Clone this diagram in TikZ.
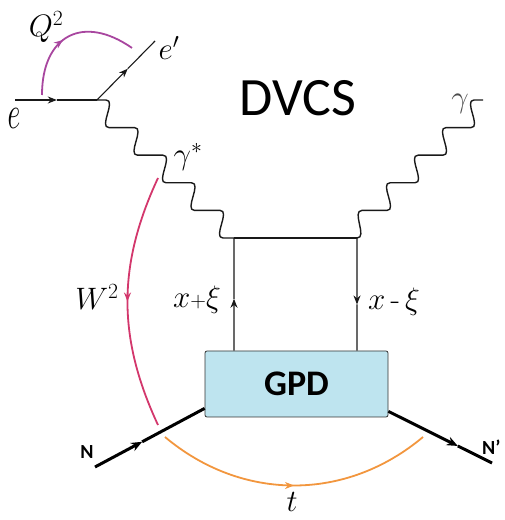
\documentclass[tikz,border=0pt]{standalone}
\usepackage{fix-cm}
\usepackage{amsmath}
\usepackage{fontspec}
\setsansfont{Carlito}
\usepackage{tikz}
\usetikzlibrary{calc,arrows.meta,positioning,decorations.markings}

\definecolor{qcol}{HTML}{A8469F}
\definecolor{wcol}{HTML}{D3376C}
\definecolor{tcol}{HTML}{F2963E}
\definecolor{gpdfill}{HTML}{BEE4EF}

\begin{document}
\begin{tikzpicture}[x=10pt, y=10pt,
    fermion/.style={line width=1.1pt, black!90},
    nucleon/.style={line width=3pt, black},
    photon/.style={line width=1.4pt, black!90, line join=round},
    kin_arc/.style={line width=1.8pt, postaction={decorate},
      decoration={markings, mark=at position #1 with
        {\arrow{Stealth[length=9pt, width=7pt]}}}},
    kin_arc/.default=0.5,
    gpdbox/.style={draw=black!80, fill=gpdfill, rounded corners=2pt,
      line width=0.8pt, minimum width=183pt, minimum height=66pt,
      font=\sffamily\bfseries\fontsize{36}{40}\selectfont},
    lbl/.style={font=\fontsize{31}{36}\selectfont},
    nlabel/.style={font=\sffamily\bfseries\fontsize{20}{24}\selectfont},
    >={Stealth[length=9pt, width=7pt]}
  ]
  \useasboundingbox (0,0) rectangle (50.4,52);

  % --- Lepton vertex ---
  \coordinate (e0) at (1.5,42);
  \coordinate (v1) at (9.7,42);
  \coordinate (ep) at (15.5,47.9);
  % --- Handbag corners ---
  \coordinate (c1) at (23.4,28.2);
  \coordinate (c2) at (35.7,28.2);

  % --- GPD blob ---
  \node[gpdbox] (gpd) at (29.65,13.6) {GPD};
  \coordinate (q1) at (gpd.north -| c1);
  \coordinate (q2) at (gpd.north -| c2);

  % --- Nucleon ends ---
  \coordinate (n0) at (9.5,5.3);
  \coordinate (n1) at ($(gpd.south west)+(0,0.9)$);
  \coordinate (n2) at ($(gpd.south east)+(0,0.6)$);
  \coordinate (n3) at (49.2,5.7);

  % --- Kinematic arcs ---
  \coordinate (qa) at (4.2,42.5);
  \coordinate (qb) at (13.2,47.2);
  \coordinate (wa) at (15.8,34.2);
  \coordinate (wb) at (15.8,9.5);
  \coordinate (ta) at (16.5,8.3);
  \coordinate (tb) at (42.3,8.3);
  \draw[kin_arc=0.45, qcol] (qa) to[out=90, in=145, looseness=1.5] (qb);
  \draw[kin_arc, wcol] (wa) to[out=-115, in=115] (wb);
  \draw[kin_arc, tcol] (ta) to[out=-40, in=-140] (tb);

  % --- Electron lines ---
  \draw[fermion, ->] (e0) -- ($(e0)!0.51!(v1)$);
  \draw[fermion] ($(e0)!0.51!(v1)$) -- (v1);
  \draw[fermion, ->] (v1) -- ($(v1)!0.53!(ep)$);
  \draw[fermion] ($(v1)!0.53!(ep)$) -- (ep);

  % --- Photons ---
  \draw[photon] (v1) -- ++(0.9,0)
    \foreach \i in {1,...,4} { to[out=0, in=180] ++(0.3,-2.76) -- ++(2.55,0) }
    to[out=0, in=180] ++(0.3,-2.76) -- (c1);
  \draw[photon] (c2) to[out=0, in=180] ++(0.5,2.76)
    \foreach \i in {1,...,4} { -- ++(2.5,0) to[out=0, in=180] ++(0.3,2.76) }
    -- ++(0.9,0);

  % --- Quark lines ---
  \draw[fermion] (c1) -- (c2);
  \draw[fermion, ->] (q1) -- ($(q1)!0.46!(c1)$);
  \draw[fermion] ($(q1)!0.46!(c1)$) -- (c1);
  \draw[fermion, ->] (c2) -- ($(c2)!0.59!(q2)$);
  \draw[fermion] ($(c2)!0.59!(q2)$) -- (q2);

  % --- Nucleon lines ---
  \draw[nucleon, -{Stealth[length=11pt, width=9pt]}] (n0) -- ($(n0)!0.43!(n1)$);
  \draw[nucleon] ($(n0)!0.43!(n1)$) -- (n1);
  \draw[nucleon, -{Stealth[length=11pt, width=9pt]}] (n2) -- ($(n2)!0.67!(n3)$);
  \draw[nucleon] ($(n2)!0.67!(n3)$) -- (n3);

  % --- Labels ---
  \node[font=\sffamily\fontsize{54}{60}\selectfont] (ttl) at (29.8,42.2) {DVCS};
  \node[lbl] (le) at (1.4,40.2) {\scalebox{0.9}[1.5]{$e$}};
  \node[lbl] (lep) at (16.9,47.2) {$e'$};
  \node[lbl] (lq) at (4.6,49.3) {$Q^2$};
  \node[lbl] (lgs) at (18.8,36.3) {$\gamma^*$};
  \node[lbl, black!70] (lg) at (46.0,41.6) {$\gamma$};
  \node[lbl] (lw) at (9.7,22.3) {$W^2$};
  \node[lbl] (lxp) at (19.7,22) {$x{\scriptstyle+}\xi$};
  \node[lbl] (lxm) at (39.4,21.8) {$x\,\text{-}\,\xi$};
  \node[lbl] (lt) at (29.2,1.8) {$t$};
  \node[nlabel] (ln) at (8.7,6.8) {N};
  \node[nlabel, anchor=east] (lnp) at (50.4,7.3) {N'};
\end{tikzpicture}
\end{document}
